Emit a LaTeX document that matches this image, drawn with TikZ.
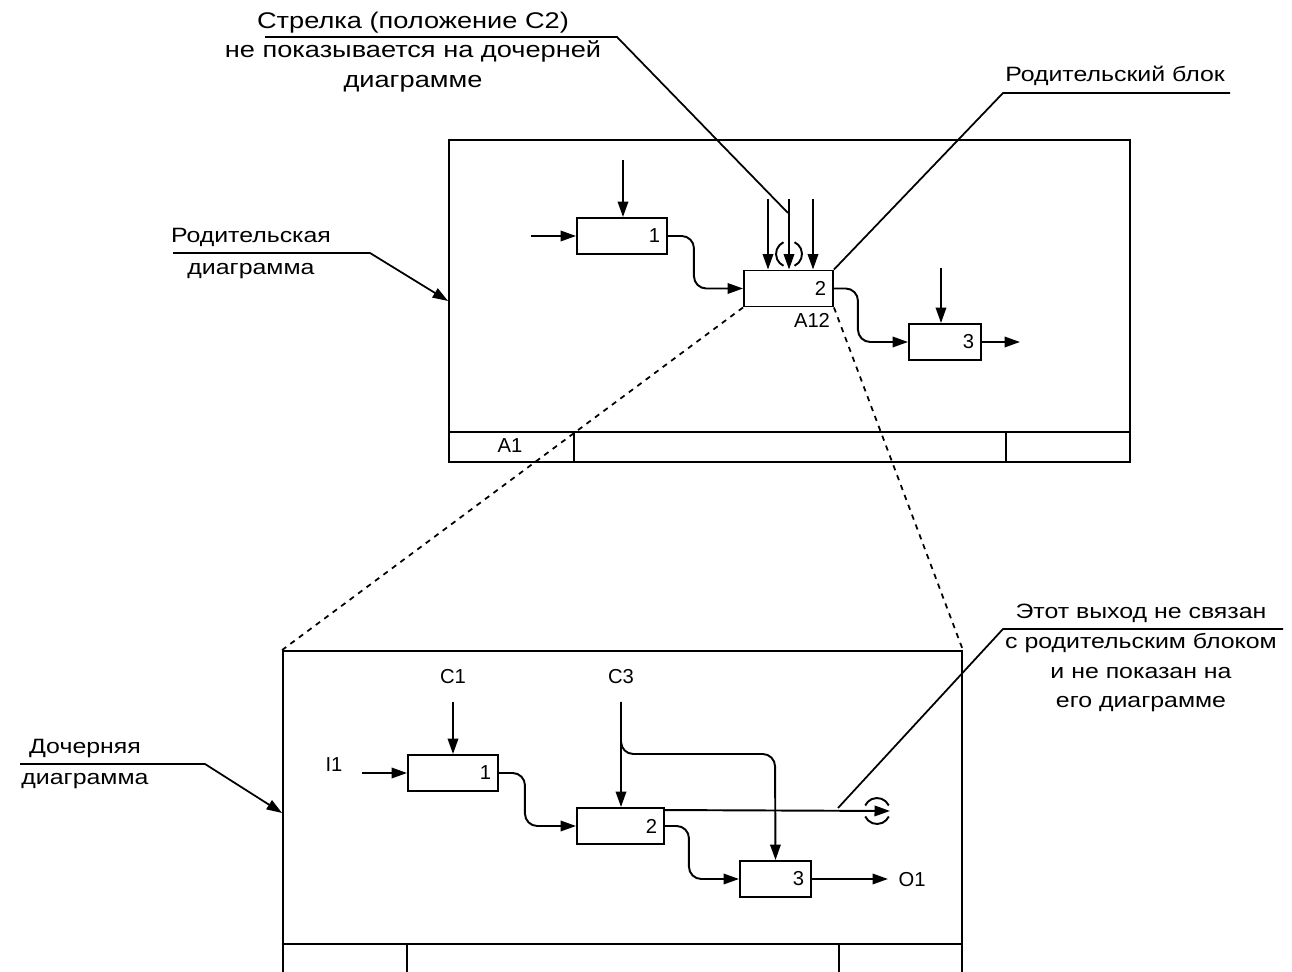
\documentclass[tikz,border=0pt]{standalone}
\usepackage{fontspec}
\setmainfont{Liberation Sans}
\newfontfamily\notefont[FakeStretch=1.2]{Liberation Sans}
\usetikzlibrary{arrows.meta,positioning}

\begin{document}
\begin{tikzpicture}[
  x=0.02cm, y=-0.02cm,
  line width=1.1pt,
  blk/.style={draw, minimum height=0.72cm, inner xsep=0.14cm,
              text width=#1, align=right, font=\fontsize{11.5}{13}\selectfont},
  arr/.style={-{Triangle[length=3.1mm,width=2.1mm]}},
  lbl/.style={font=\fontsize{11.5}{13}\selectfont, inner sep=0pt},
  note/.style={font=\notefont\fontsize{11.8}{17}\selectfont, align=center, inner sep=0pt},
  frame/.style={draw, inner sep=0pt},
  lead/.style={line width=1pt},
  zoomline/.style={line width=1pt, dash pattern=on 3pt off 3pt},
  tunnel/.style={circle, minimum size=0.52cm, inner sep=0pt, outer sep=0pt}
]
\useasboundingbox (0,0) rectangle (1292,972);

% parent diagram
\node[frame, minimum width=13.62cm, minimum height=6.44cm] (pframe) at (789.5,301) {};
\draw (449,432) -- (1130,432);
\draw (574,432) -- (574,462);
\draw (1006,432) -- (1006,462);
\node[lbl] (pa1) at (510,446) {A1};

\node[blk=1.52cm] (pb1) at (622,236) {1};
\node[blk=1.5cm]  (pb2) at (788.5,288.5) {2};
\node[blk=1.16cm] (pb3) at (945,342) {3};
\node[lbl] (pa12) at (812,320) {A12};

\coordinate (pi1) at (531,236);
\coordinate (pc1) at (623,160);
\coordinate (pc2a) at (768,199);
\coordinate (pc2b) at (789,199);
\coordinate (pc2c) at (813,199);
\coordinate (pc3) at (941,268);
\coordinate (po3) at (1020,342);

\draw[arr] (pi1) -- (pb1.west);
\draw[arr] (pc1) -- (pc1 |- pb1.north);
\draw[arr] (pc2a) -- (pc2a |- pb2.north);
\draw[arr] (pc2b) -- (pc2b |- pb2.north);
\draw[arr] (pc2c) -- (pc2c |- pb2.north);
\draw[arr] (pc3) -- (pc3 |- pb3.north);
\draw[arr] (pb3.east) -- (po3);
\draw[arr, rounded corners=7pt] (pb1.east) -- ++(26,0) |- (pb2.west);
\draw[arr, rounded corners=7pt] (pb2.east) -- ++(24,0) |- (pb3.west);

% tunnel round C2
\node[tunnel] (ptun) at (789,254) {};
\draw (ptun.115) arc[start angle=115, end angle=245, radius=0.26cm];
\draw (ptun.-65) arc[start angle=-65, end angle=65, radius=0.26cm];

% child diagram
\node[frame, minimum width=13.58cm, minimum height=6.48cm] (cframe) at (622.5,813) {};
\draw (283,944) -- (962,944);
\draw (407,944) -- (407,980);
\draw (839,944) -- (839,980);

\node[blk=1.52cm] (cb1) at (453,773) {1};
\node[blk=1.46cm] (cb2) at (620.5,826) {2};
\node[blk=1.14cm] (cb3) at (775.5,879) {3};

\node[lbl] (lc1) at (453,677) {C1};
\node[lbl] (lc3) at (621,677) {C3};
\node[lbl] (li1) at (334,765) {I1};
\node[lbl] (lo1) at (912,880) {O1};

\coordinate (ci1) at (362,773);
\coordinate (cc1) at (453,702);
\coordinate (cc3) at (621,702);
\coordinate (c3turn) at (775,754);
\coordinate (co1) at (888,879);

\draw[arr] (ci1) -- (cb1.west);
\draw[arr] (cc1) -- (cb1.north);
\draw[arr] (cc3) -- (cc3 |- cb2.north);
\draw[arr, rounded corners=7pt] (cc3) |- (c3turn) -- (cb3.north);
\draw[arr, rounded corners=7pt] (cb1.east) -- ++(26,0) |- (cb2.west);
\draw[arr, rounded corners=7pt] (cb2.east) -- ++(24,0) |- (cb3.west);
\draw[arr] (cb3.east) -- (co1);

\node[tunnel] (ctun) at (877,811) {};
\draw[arr] ([yshift=-0.06cm]cb2.north east) -- (ctun.east);
\draw (ctun.25) arc[start angle=25, end angle=155, radius=0.26cm];
\draw (ctun.205) arc[start angle=205, end angle=335, radius=0.26cm];

% zoom lines
\draw[zoomline] (pb2.south west) -- (cframe.north west);
\draw[zoomline] (pb2.south east) -- (cframe.north east);

% notes
\node[note, font=\notefont\fontsize{12.9}{16.8}\selectfont] (notec2) at (413,52) {Стрелка (положение C2)\\не показывается на дочерней\\диаграмме};
\coordinate (c2a) at (265,37);
\coordinate (c2b) at (617,37);
\coordinate (c2tip) at (788,213);
\draw[lead] (c2a) -- (c2b) -- (c2tip);

\node[note] (notepb) at (1115,76) {Родительский блок};
\coordinate (pba) at (1230,93);
\coordinate (pbb) at (1003,93);
\draw[lead] (pba) -- (pbb) -- (pb2.north east);

\node[note, font=\notefont\fontsize{11.8}{18.2}\selectfont] (notepd) at (251,254) {Родительская\\диаграмма};
\coordinate (pda) at (173,253);
\coordinate (pdb) at (370,253);
\draw[lead, arr] (pda) -- (pdb) -- (pframe.west);

\node[note, font=\notefont\fontsize{11.8}{17.6}\selectfont] (notecd) at (85,764) {Дочерняя\\диаграмма};
\coordinate (cda) at (20,764);
\coordinate (cdb) at (205,764);
\draw[lead, arr] (cda) -- (cdb) -- (cframe.west);

\node[note] (noteout) at (1141,658) {Этот выход не связан\\с родительским блоком\\и не показан на\\его диаграмме};
\coordinate (oua) at (1283,629);
\coordinate (oub) at (1003,629);
\coordinate (outip) at (838,808);
\draw[lead] (oua) -- (oub) -- (outip);
\end{tikzpicture}
\end{document}
